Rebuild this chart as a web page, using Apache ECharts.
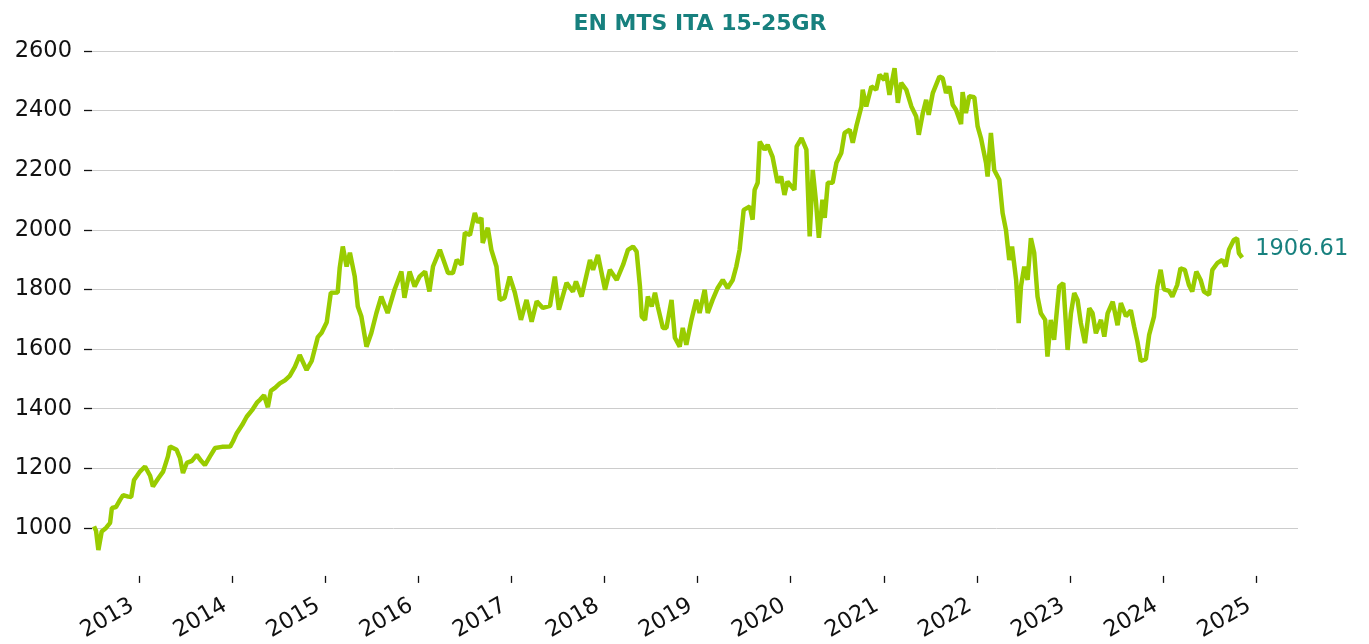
<!DOCTYPE html>
<html lang="en">
  <head>
    <meta charset="UTF-8" />
    <title>EN MTS ITA 15-25GR</title>
    <script src="https://cdn.jsdelivr.net/npm/echarts@6/dist/echarts.min.js"></script>
    <style>
      html, body { margin: 0; padding: 0; background: #fff; }
      #main { width: 1369px; height: 644px; }
    </style>
  </head>
  <body>
    <div id="main"></div>
    <script>
      // index level, roughly every 2-3 weeks
      const dates = [
        "2012-07-08", "2012-07-16", "2012-07-25", "2012-08-07", "2012-08-24", "2012-09-09", "2012-09-16",
        "2012-10-02", "2012-10-18", "2012-10-30", "2012-11-19", "2012-12-01", "2012-12-12",
        "2013-01-05", "2013-01-24", "2013-02-13", "2013-02-24", "2013-03-16", "2013-04-05", "2013-04-24",
        "2013-05-02", "2013-05-28", "2013-06-10", "2013-06-22", "2013-07-07", "2013-07-27", "2013-08-15",
        "2013-09-01", "2013-09-16", "2013-10-06", "2013-10-26", "2013-11-22", "2013-12-24",
        "2014-01-04", "2014-01-19", "2014-02-09", "2014-02-27", "2014-03-20", "2014-04-08", "2014-04-20",
        "2014-05-06", "2014-05-21", "2014-06-02", "2014-06-18", "2014-07-07", "2014-07-27", "2014-08-15",
        "2014-09-04", "2014-09-23", "2014-10-20", "2014-11-09", "2014-12-03", "2014-12-18",
        "2015-01-07", "2015-01-23", "2015-02-19", "2015-02-27", "2015-03-11", "2015-03-26", "2015-04-08",
        "2015-04-27", "2015-05-09", "2015-05-23", "2015-06-12", "2015-07-01", "2015-07-21", "2015-08-09",
        "2015-09-03", "2015-09-30", "2015-10-27", "2015-11-08", "2015-11-28", "2015-12-18",
        "2016-01-06", "2016-01-28", "2016-02-14", "2016-02-28", "2016-03-26", "2016-04-27", "2016-05-16",
        "2016-05-31", "2016-06-19", "2016-07-02", "2016-07-22", "2016-08-10", "2016-08-22", "2016-09-05",
        "2016-09-10", "2016-09-30", "2016-10-14", "2016-11-03", "2016-11-16", "2016-12-05", "2016-12-25",
        "2017-01-14", "2017-02-07", "2017-03-01", "2017-03-21", "2017-04-10", "2017-05-04", "2017-06-01",
        "2017-06-20", "2017-07-06", "2017-08-05", "2017-08-30", "2017-09-11", "2017-10-03", "2017-11-05",
        "2017-11-17", "2017-12-06",
        "2018-01-03", "2018-01-22", "2018-02-18", "2018-03-15", "2018-04-03", "2018-04-23", "2018-05-07",
        "2018-05-20", "2018-05-27", "2018-06-09", "2018-06-20", "2018-07-05", "2018-07-18", "2018-07-29",
        "2018-08-18", "2018-09-01", "2018-09-21", "2018-10-04", "2018-10-23", "2018-11-04", "2018-11-18",
        "2018-12-08", "2018-12-27",
        "2019-01-09", "2019-01-29", "2019-02-10", "2019-03-01", "2019-03-21", "2019-04-10", "2019-04-29",
        "2019-05-19", "2019-06-02", "2019-06-15", "2019-07-01", "2019-07-25", "2019-08-05", "2019-08-13",
        "2019-08-25", "2019-09-02", "2019-09-21", "2019-10-03", "2019-10-22", "2019-11-11", "2019-11-25",
        "2019-12-08", "2019-12-20",
        "2020-01-16", "2020-01-25", "2020-02-13", "2020-03-03", "2020-03-16", "2020-03-28", "2020-04-09",
        "2020-04-21", "2020-05-05", "2020-05-14", "2020-05-26", "2020-06-14", "2020-06-29", "2020-07-18",
        "2020-07-31", "2020-08-20", "2020-09-01", "2020-09-15", "2020-10-05", "2020-10-10", "2020-10-24",
        "2020-11-13", "2020-12-02", "2020-12-15",
        "2021-01-03", "2021-01-10", "2021-01-23", "2021-02-12", "2021-02-25", "2021-03-10", "2021-03-30",
        "2021-04-19", "2021-05-08", "2021-05-18", "2021-06-03", "2021-06-16", "2021-06-26", "2021-07-12",
        "2021-08-07", "2021-08-20", "2021-09-02", "2021-09-15", "2021-09-28", "2021-10-11", "2021-10-31",
        "2021-11-06", "2021-11-19", "2021-12-02", "2021-12-22",
        "2022-01-04", "2022-01-17", "2022-02-06", "2022-02-12", "2022-02-25", "2022-03-10", "2022-03-30",
        "2022-04-12", "2022-04-25", "2022-05-08", "2022-05-19", "2022-06-04", "2022-06-14", "2022-06-23",
        "2022-07-06", "2022-07-19", "2022-08-01", "2022-08-14", "2022-08-27", "2022-09-09", "2022-09-26",
        "2022-10-05", "2022-10-18", "2022-10-31", "2022-11-20", "2022-12-06", "2022-12-23",
        "2023-01-05", "2023-01-18", "2023-01-31", "2023-02-13", "2023-03-01", "2023-03-18", "2023-03-31",
        "2023-04-13", "2023-05-03", "2023-05-16", "2023-05-29", "2023-06-18", "2023-07-07", "2023-07-20",
        "2023-08-09", "2023-08-28", "2023-09-10", "2023-09-23", "2023-10-06", "2023-10-26", "2023-11-08",
        "2023-11-27", "2023-12-10", "2023-12-23",
        "2024-01-05", "2024-01-25", "2024-02-07", "2024-02-26", "2024-03-10", "2024-03-27", "2024-04-12",
        "2024-04-25", "2024-05-11", "2024-05-28", "2024-06-10", "2024-06-30", "2024-07-13", "2024-08-01",
        "2024-08-21", "2024-09-03", "2024-09-16", "2024-10-05", "2024-10-18", "2024-10-25", "2024-11-07"
      ]

      const values = [
        1005, 990, 926, 988, 1000, 1017, 1067,
        1070, 1094, 1110, 1105, 1104, 1161,
        1190, 1206, 1175, 1139, 1165, 1189, 1240,
        1273, 1262, 1235, 1184, 1218, 1225, 1245,
        1225, 1211, 1240, 1268, 1272, 1273,
        1290, 1318, 1345, 1373, 1395, 1420, 1430,
        1445, 1405, 1460, 1470, 1485, 1495, 1510,
        1540, 1580, 1530, 1560, 1640, 1655,
        1690, 1789, 1790, 1873, 1944, 1877, 1923,
        1843, 1743, 1709, 1608, 1654, 1721, 1776,
        1721, 1799, 1860, 1772, 1860, 1810,
        1843, 1860, 1793, 1877, 1933, 1855, 1855,
        1899, 1883, 1990, 1983, 2057, 2024, 2040,
        1956, 2007, 1933, 1877, 1765, 1772, 1843,
        1790, 1698, 1765, 1692, 1760, 1738, 1745,
        1843, 1732, 1822, 1793, 1827, 1776, 1899,
        1866, 1916,
        1799, 1866, 1832, 1883, 1933, 1944, 1927,
        1810, 1709, 1698, 1776, 1743, 1789, 1743,
        1671, 1671, 1765, 1638, 1608, 1671, 1614,
        1698, 1765,
        1721, 1799, 1721, 1765, 1805, 1832, 1805,
        1832, 1877, 1933, 2067, 2078, 2034, 2134,
        2158, 2296, 2269, 2285, 2246, 2158, 2179,
        2117, 2162,
        2134, 2280, 2308, 2269, 1978, 2201, 2101,
        1973, 2101, 2040, 2158, 2158, 2225, 2258,
        2325, 2336, 2292, 2347, 2414, 2470, 2414,
        2481, 2470, 2520,
        2503, 2526, 2453, 2542, 2426, 2493, 2470,
        2414, 2380, 2319, 2392, 2436, 2386, 2459,
        2514, 2509, 2459, 2481, 2420, 2403, 2355,
        2462, 2392, 2448, 2445,
        2347, 2308, 2224, 2179, 2325, 2201, 2168,
        2056, 2000, 1899, 1944, 1832, 1687, 1810,
        1877, 1832, 1972, 1922, 1776, 1720, 1698,
        1575, 1698, 1631, 1810, 1821, 1597,
        1720, 1788, 1765, 1687, 1620, 1737, 1720,
        1653, 1698, 1642, 1720, 1759, 1680, 1754,
        1710, 1730, 1676, 1625, 1560, 1566, 1648,
        1709, 1810, 1866,
        1800, 1795, 1776, 1815, 1871, 1866, 1815,
        1793, 1860, 1832, 1793, 1782, 1866, 1888,
        1899, 1877, 1933, 1966, 1972, 1922, 1906.61
      ]

      const yearTicks = [2013, 2014, 2015, 2016, 2017, 2018, 2019, 2020, 2021, 2022, 2023, 2024, 2025]
      const valueTicks = [1000, 1200, 1400, 1600, 1800, 2000, 2200, 2400, 2600]

      const teal = "#17807e"
      const font = "DejaVu Sans"

      // "YYYY-MM-DD" -> local timestamp
      const ts = (s) => {
        const [y, m, d] = s.split("-").map(Number)
        return new Date(y, m - 1, d).getTime()
      }
      const yearStamps = yearTicks.map((y) => new Date(y, 0, 1).getTime())

      const chart = echarts.init(document.getElementById("main"))
      chart.setOption({
        animation: false,
        title: {
          text: "EN MTS ITA 15-25GR",
          left: 695,
          textAlign: "center",
          top: 8,
          textStyle: { color: teal, fontFamily: font, fontWeight: "bold", fontSize: 22 },
        },
        grid: { left: 92, right: 71, top: 44, bottom: 68 },
        xAxis: {
          type: "value",
          min: ts("2012-06-30"),
          max: ts("2025-06-14"),
          axisLine: { show: false },
          splitLine: { show: false },
          axisTick: { customValues: yearStamps, length: 7, lineStyle: { color: "#111", width: 1.3 } },
          axisLabel: {
            customValues: yearStamps,
            rotate: 30,
            margin: 24,
            padding: [0, 8, 0, 0],
            color: "#111",
            fontFamily: font,
            fontSize: 22.5,
            formatter: (v) => String(new Date(v).getFullYear()),
          },
        },
        yAxis: {
          type: "value",
          min: 839,
          max: 2623.5,
          axisLine: { show: false },
          axisTick: { show: true, customValues: valueTicks, length: 8, lineStyle: { color: "#111", width: 1.3 } },
          splitLine: { lineStyle: { color: "#cccccc", width: 1 } },
          axisLabel: {
            customValues: valueTicks,
            margin: 20,
            color: "#111",
            fontFamily: font,
            fontSize: 22.5,
            formatter: (v) => String(v),
          },
        },
        series: [
          {
            type: "line",
            data: dates.map((d, i) => [ts(d), values[i]]),
            showSymbol: false,
            lineStyle: { color: "#99cc00", width: 4.5 },
            itemStyle: { color: "#99cc00" },
            endLabel: {
              show: true,
              formatter: (p) => p.value[1].toFixed(2),
              color: teal,
              fontFamily: font,
              fontSize: 22.5,
              distance: 13,
              offset: [0, -9],
            },
          },
        ],
      })
    </script>
  </body>
</html>
